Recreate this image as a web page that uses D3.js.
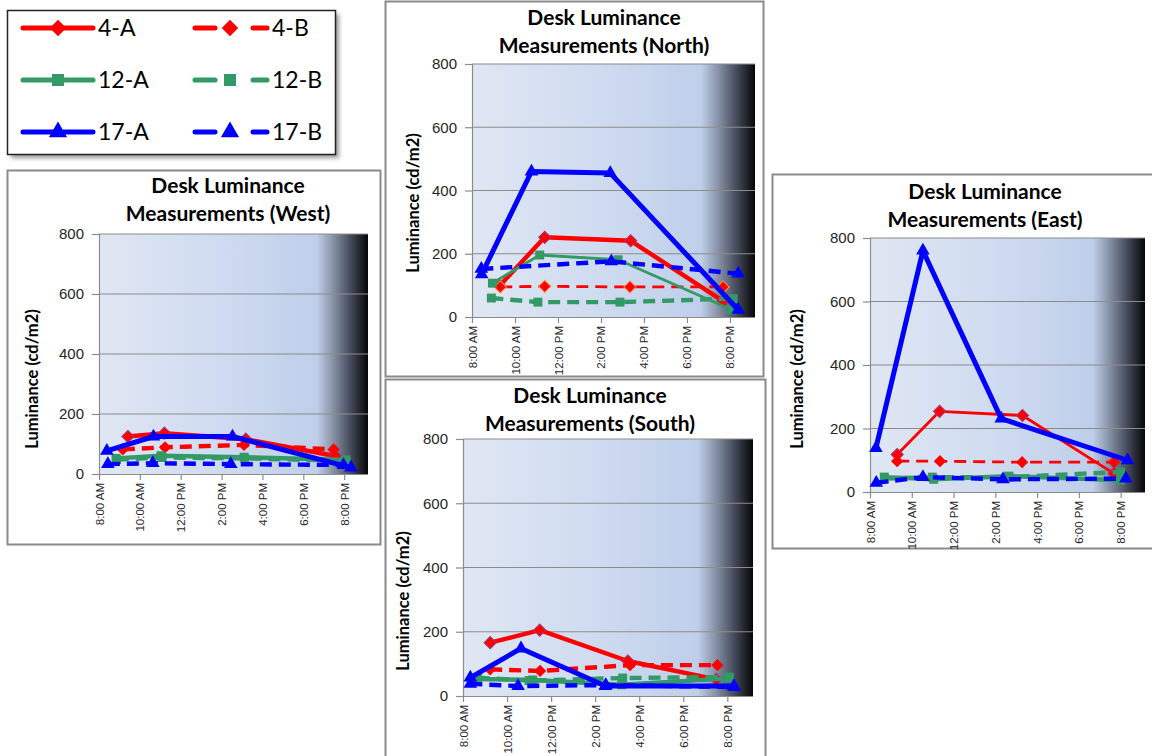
<!DOCTYPE html>
<html>
<head>
<meta charset="utf-8">
<script src="https://cdn.jsdelivr.net/npm/d3@7"></script>
<style>
body { margin: 0; background: #fff; }
.title { font-family: Lato, "Open Sans", sans-serif; font-weight: bold; font-size: 21px; fill: #000; text-anchor: middle; }
.ytitle { font-family: Lato, sans-serif; font-weight: bold; font-size: 16.5px; fill: #000; text-anchor: middle; }
.tick text { font-family: "Liberation Sans", Arial, sans-serif; fill: #262626; }
.legend text { font-family: Lato, sans-serif; font-size: 23px; fill: #000; }
</style>
</head>
<body>
<svg id="chart" width="1152" height="756"></svg>
<script>

var seriesNames = ["4-A", "4-B", "12-A", "12-B", "17-A", "17-B"];
var seriesColors = ["#ff0000", "#ff0000", "#339966", "#339966", "#0000ff", "#0000ff"];
var seriesShapes = ["diamond", "diamond", "square", "square", "triangle", "triangle"];
var seriesDashed = [false, true, false, true, false, true];
var yTicks = [0, 200, 400, 600, 800];
var xTicks = ["8:00", "10:00", "12:00", "14:00", "16:00", "18:00", "20:00"];
var timeDomain = ["8:00", "21:10"];

// measurement times and values, one row per series (same order as seriesNames)
var westTimes = [
    ["9:25", "11:12", "15:11", "19:34"],
    ["9:10", "11:14", "15:06", "19:29"],
    ["8:50", "11:02", "15:06", "20:06"],
    ["8:52", "11:05", "15:08", "20:04"],
    ["8:23", "10:40", "14:32", "20:20"],
    ["8:26", "10:38", "14:27", "19:58"]
];
var westValues = [
    [125, 136, 116, 60],
    [82, 89, 97, 82],
    [52, 61, 56, 47],
    [48, 55, 52, 44],
    [77, 125, 125, 21],
    [33, 36, 33, 30]
];

var northTimes = [
    ["9:17", "11:23", "15:23", "19:41"],
    ["9:19", "11:23", "15:21", "19:41"],
    ["8:57", "11:09", "14:48", "20:05"],
    ["8:54", "11:04", "14:53", "20:09"],
    ["8:27", "10:46", "14:26", "20:23"],
    ["8:26", "14:29", "20:23"]
];
var northValues = [
    [99, 252, 241, 50],
    [95, 97, 95, 95],
    [107, 196, 181, 23],
    [60, 47, 47, 58],
    [135, 460, 455, 23],
    [152, 176, 137]
];

var southTimes = [
    ["9:14", "11:29", "15:29", "19:30"],
    ["9:14", "11:30", "15:35", "19:33"],
    ["8:27", "11:10", "15:12", "20:05"],
    ["8:40", "11:00", "15:15", "20:05"],
    ["8:20", "10:38", "14:28", "20:18"],
    ["8:20", "10:30", "14:29", "20:18"]
];
var southValues = [
    [166, 205, 109, 52],
    [83, 78, 96, 96],
    [53, 50, 35, 55],
    [57, 48, 56, 59],
    [57, 148, 31, 31],
    [38, 31, 34, 28]
];

var eastTimes = [
    ["9:18", "11:20", "15:18", "19:41"],
    ["9:18", "11:21", "15:17", "19:41"],
    ["8:41", "11:03", "14:38", "20:00"],
    ["8:42", "10:59", "14:40", "20:00"],
    ["8:17", "10:32", "14:17", "20:20"],
    ["8:18", "10:32", "14:22", "20:15"]
];
var eastValues = [
    [118, 254, 241, 58],
    [97, 97, 94, 94],
    [47, 40, 50, 37],
    [42, 47, 47, 63],
    [138, 760, 231, 100],
    [29, 47, 40, 42]
];

var panels = [
    {name: "West", times: westTimes, values: westValues,
     box: [7, 170, 373, 374], plot: [99, 234, 368, 474], title: [228, 193], ytitle: [32, 379], thin: []},
    {name: "North", times: northTimes, values: northValues,
     box: [385, 1, 378, 375], plot: [472, 64, 755, 317], title: [604, 25], ytitle: [413, 203], thin: ["4-B", "12-A"]},
    {name: "South", times: southTimes, values: southValues,
     box: [385, 379, 380, 380], plot: [463, 439, 753, 696], title: [590, 403], ytitle: [403, 601], thin: []},
    {name: "East", times: eastTimes, values: eastValues,
     box: [772, 174, 384, 374], plot: [870, 238, 1145, 492], title: [985, 199], ytitle: [797, 379], thin: ["4-A", "4-B"]}
];

var parseTime = d3.timeParse("%H:%M");
var formatTime = d3.timeFormat("%-I:%M %p");

var svg = d3.select("#chart");
var defs = svg.append("defs");

var grad = defs.append("linearGradient").attr("id", "plotbg")
    .attr("x1", 0).attr("y1", 0).attr("x2", 1).attr("y2", 0);
[[0, "#e0e7f3"], [0.45, "#cfdbf0"], [0.81, "#bfcfea"], [0.87, "#8892a6"], [0.93, "#4a5061"], [1, "#060606"]]
    .forEach(function(s) {
        grad.append("stop").attr("offset", s[0]).attr("stop-color", s[1]);
    });

var shadow = defs.append("filter").attr("id", "shadow").attr("x", "-10%").attr("y", "-10%")
    .attr("width", "130%").attr("height", "130%");
shadow.append("feGaussianBlur").attr("stdDeviation", 2);

function markerPath(shape, k) {
    if (shape == "diamond") return d3.symbol().type(d3.symbolSquare).size(75 * k)();
    if (shape == "square") return d3.symbol().type(d3.symbolSquare).size(80 * k)();
    return d3.symbol().type(d3.symbolTriangle).size(80 * k)();
}

function drawPanel(p) {
    var g = svg.append("g").attr("class", "panel");

    g.append("rect")
        .attr("x", p.box[0] + 0.5).attr("y", p.box[1] + 0.5)
        .attr("width", p.box[2]).attr("height", p.box[3])
        .attr("fill", "#fff").attr("stroke", "#8a8a8a").attr("stroke-width", 2);

    var x = d3.scaleTime()
        .domain(timeDomain.map(parseTime))
        .range([p.plot[0], p.plot[2]]);
    var y = d3.scaleLinear()
        .domain([0, 800])
        .range([p.plot[3], p.plot[1]]);

    g.append("rect")
        .attr("x", p.plot[0]).attr("y", p.plot[1])
        .attr("width", p.plot[2] - p.plot[0]).attr("height", p.plot[3] - p.plot[1])
        .attr("fill", "url(#plotbg)");

    g.selectAll("line.grid")
        .data(yTicks.slice(1))
        .enter().append("line")
        .attr("class", "grid")
        .attr("x1", p.plot[0]).attr("x2", p.plot[2])
        .attr("y1", function(d) { return y(d); })
        .attr("y2", function(d) { return y(d); })
        .attr("stroke", "#8c8c8c").attr("stroke-width", 1.2);

    var yAxis = g.append("g")
        .attr("transform", "translate(" + p.plot[0] + ",0)")
        .call(d3.axisLeft(y).tickValues(yTicks).tickSize(7).tickPadding(8));
    yAxis.selectAll("text").style("font-size", "15px");

    var xAxis = g.append("g")
        .attr("transform", "translate(0," + p.plot[3] + ")")
        .call(d3.axisBottom(x).tickValues(xTicks.map(parseTime)).tickFormat(formatTime).tickSize(6));
    xAxis.selectAll("text")
        .style("font-size", "11.5px")
        .attr("transform", "rotate(-90)")
        .attr("text-anchor", "end")
        .attr("x", -9).attr("y", 0).attr("dy", "0.35em");

    g.selectAll(".domain, .tick line").attr("stroke", "#8c8c8c").attr("stroke-width", 1.2);
    xAxis.select(".domain").attr("d", "M" + p.plot[0] + ",0.5H" + p.plot[2]);
    yAxis.select(".domain").attr("d", "M0.5," + p.plot[3] + "V" + p.plot[1]);

    var line = d3.line()
        .x(function(d) { return x(d.t); })
        .y(function(d) { return y(d.v); });

    seriesNames.forEach(function(name, i) {
        var pts = p.times[i].map(function(t, j) {
            return {t: parseTime(t), v: p.values[i][j]};
        });
        var thin = p.thin.indexOf(name) >= 0;
        g.append("path")
            .datum(pts)
            .attr("d", line)
            .attr("fill", "none")
            .attr("stroke", seriesColors[i])
            .attr("stroke-width", thin ? 2.8 : (i == 4 ? 5 : 4.4))
            .attr("stroke-linejoin", "round")
            .attr("stroke-dasharray", seriesDashed[i] ? "12,7" : null);

        g.selectAll("path.m" + i)
            .data(pts)
            .enter().append("path")
            .attr("class", "m" + i)
            .attr("d", markerPath(seriesShapes[i], 1))
            .attr("transform", function(d) {
                return "translate(" + x(d.t) + "," + y(d.v) + ")" + (seriesShapes[i] == "diamond" ? " rotate(45)" : "");
            })
            .attr("fill", seriesColors[i])
            .attr("stroke", i == 0 ? "#9b3a78" : (i == 1 && p.name == "North" ? "#f0a040" : "none"))
            .attr("stroke-width", 1);
    });

    g.append("text")
        .attr("class", "title")
        .attr("x", p.title[0]).attr("y", p.title[1])
        .text("Desk Luminance");
    g.append("text")
        .attr("class", "title")
        .attr("x", p.title[0]).attr("y", p.title[1] + 28)
        .text("Measurements (" + p.name + ")");

    g.append("text")
        .attr("class", "ytitle")
        .attr("transform", "translate(" + p.ytitle[0] + "," + p.ytitle[1] + ") rotate(-90)")
        .attr("dy", "0.35em")
        .text("Luminance (cd/m2)");
}

panels.forEach(drawPanel);

// legend
var leg = svg.append("g").attr("class", "legend");
leg.append("rect")
    .attr("x", 11).attr("y", 14).attr("width", 328).attr("height", 144)
    .attr("fill", "#9a9a9a").attr("filter", "url(#shadow)");
leg.append("rect")
    .attr("x", 7.5).attr("y", 10.5).attr("width", 328).attr("height", 144)
    .attr("fill", "#fff").attr("stroke", "#222").attr("stroke-width", 1.5);

seriesNames.forEach(function(name, i) {
    var row = Math.floor(i / 2), col = i % 2;
    var cy = 28 + row * 52;
    var x0 = col ? 195 : 23, x1 = col ? 267 : 93, mx = col ? 230 : 58;
    var lg = leg.append("g");
    if (seriesDashed[i]) {
        [[x0, x0 + 20], [x1 - 14, x1]].forEach(function(s) {
            lg.append("line")
                .attr("x1", s[0]).attr("x2", s[1]).attr("y1", cy).attr("y2", cy)
                .attr("stroke", seriesColors[i]).attr("stroke-width", 5).attr("stroke-linecap", "round");
        });
    } else {
        lg.append("line")
            .attr("x1", x0).attr("x2", x1).attr("y1", cy).attr("y2", cy)
            .attr("stroke", seriesColors[i]).attr("stroke-width", 5).attr("stroke-linecap", "round");
    }
    lg.append("path")
        .attr("d", markerPath(seriesShapes[i], 1.8))
        .attr("transform", "translate(" + mx + "," + cy + ")" + (seriesShapes[i] == "diamond" ? " rotate(45)" : ""))
        .attr("fill", seriesColors[i]);
    lg.append("text")
        .attr("x", x1 + 5).attr("y", cy).attr("dy", "0.36em")
        .text(name);
});

</script>
</body>
</html>
